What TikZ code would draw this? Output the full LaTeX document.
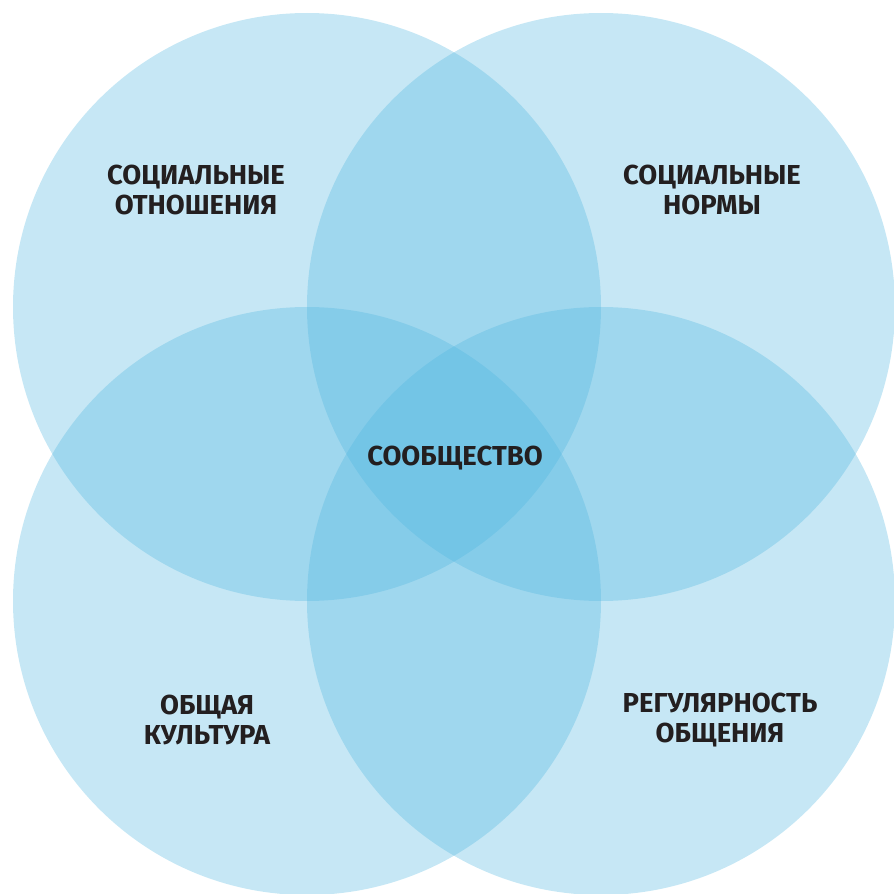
\documentclass[tikz,border=0pt]{standalone}
\usepackage{fontspec}
\setmainfont{Fira Sans}
\definecolor{circblue}{RGB}{78,181,223}
\definecolor{labeltext}{RGB}{35,31,32}
\begin{document}
\begin{tikzpicture}[x=1cm, y=1cm,
        area/.style = {fill=circblue, fill opacity=0.32},
        label/.style = {text=labeltext, align=center, font=\bfseries\fontsize{7.8}{8.6}\selectfont}]
        \useasboundingbox (0,0) rectangle (8.94,8.94);
        \coordinate (1) at (3.07,5.87);
        \coordinate (2) at (6.01,5.87);
        \coordinate (3) at (3.07,2.93);
        \coordinate (4) at (6.01,2.93);
        \fill[area] (1) circle (2.94);
        \fill[area] (2) circle (2.94);
        \fill[area] (3) circle (2.94);
        \fill[area] (4) circle (2.94);
        \node[label] (relations) at (1.96,7.04) {СОЦИАЛЬНЫЕ\\ОТНОШЕНИЯ};
        \node[label] (norms) at (7.12,7.04) {СОЦИАЛЬНЫЕ\\НОРМЫ};
        \node[label] (community) at (4.55,4.36) {СООБЩЕСТВО};
        \node[label] (culture) at (2.07,1.74) {ОБЩАЯ\\КУЛЬТУРА};
        \node[label] (regularity) at (7.20,1.74) {РЕГУЛЯРНОСТЬ\\ОБЩЕНИЯ};
    \end{tikzpicture}
\end{document}
